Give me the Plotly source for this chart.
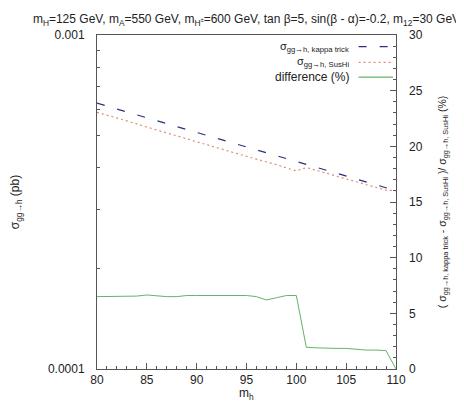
import plotly.graph_objects as go

mh = list(range(80, 111))
sigma_kappa = [6.25e-4, 6.13e-4, 6.00e-4, 5.88e-4, 5.77e-4, 5.65e-4, 5.54e-4, 5.43e-4,
               5.32e-4, 5.21e-4, 5.11e-4, 5.01e-4, 4.91e-4, 4.81e-4, 4.71e-4, 4.62e-4,
               4.53e-4, 4.44e-4, 4.35e-4, 4.26e-4, 4.18e-4, 4.09e-4, 4.01e-4, 3.93e-4,
               3.85e-4, 3.78e-4, 3.70e-4, 3.63e-4, 3.56e-4, 3.49e-4, 3.42e-4]
sigma_sushi = [5.87e-4, 5.76e-4, 5.63e-4, 5.52e-4, 5.42e-4, 5.30e-4, 5.20e-4, 5.10e-4,
               5.00e-4, 4.89e-4, 4.79e-4, 4.70e-4, 4.61e-4, 4.51e-4, 4.42e-4, 4.33e-4,
               4.25e-4, 4.18e-4, 4.09e-4, 4.00e-4, 3.92e-4, 4.01e-4, 3.94e-4, 3.86e-4,
               3.78e-4, 3.71e-4, 3.64e-4, 3.57e-4, 3.50e-4, 3.43e-4, 3.42e-4]
difference = [6.5, 6.5, 6.5, 6.5, 6.55, 6.65, 6.55, 6.5, 6.5, 6.6, 6.6, 6.6, 6.6, 6.6,
              6.6, 6.6, 6.5, 6.2, 6.4, 6.6, 6.6, 1.95, 1.9, 1.85, 1.85, 1.85, 1.75, 1.7,
              1.7, 1.65, 0.0]

left_ticks = [1e-4, 1e-3]
left_ticktext = ["0.0001", "0.001"]
left_minor = [2e-4, 3e-4, 4e-4, 5e-4, 6e-4, 7e-4, 8e-4, 9e-4]

c_kappa = "#2e2e80"
c_sushi = "#e08a78"
c_diff = "#66b366"
frame = "#555555"
font = "Liberation Sans"

fig = go.Figure()
fig.add_trace(go.Scatter(x=mh, y=sigma_kappa, mode="lines", name="kappa",
                         line=dict(color=c_kappa, width=1.2, dash="8px,13px"),
                         showlegend=False))
fig.add_trace(go.Scatter(x=mh, y=sigma_sushi, mode="lines", name="sushi",
                         line=dict(color=c_sushi, width=1.2, dash="2px,3px"),
                         showlegend=False))
fig.add_trace(go.Scatter(x=mh, y=difference, mode="lines", name="diff", yaxis="y2",
                         line=dict(color=c_diff, width=1),
                         showlegend=False))

# legend imitation (gnuplot style: text left, sample right)
leg = [("σ<sub>gg→h, kappa trick</sub>", c_kappa, "8px,13px", 0.965, 11),
       ("σ<sub>gg→h, SusHi</sub>", c_sushi, "2px,3px", 0.918, 11),
       ("difference (%)", c_diff, "solid", 0.874, 12)]
for txt, col, dsh, yy, fs in leg:
    fig.add_annotation(x=0.85, y=yy, xref="paper", yref="paper", text=txt,
                       showarrow=False, xanchor="right", yanchor="middle",
                       font=dict(family=font, size=fs, color="#222222"))
    fig.add_shape(type="line", xref="paper", yref="paper", x0=0.875, x1=0.99,
                  y0=yy, y1=yy, line=dict(color=col, width=1.2, dash=dsh))

# x-axis title placed as text just under the tick labels
fig.add_annotation(x=0.5, y=-0.074, xref="paper", yref="paper", text="m<sub>h</sub>",
                   showarrow=False, xanchor="center", yanchor="middle",
                   font=dict(family=font, size=12, color="#222222"))

fig.update_layout(
    width=464, height=401,
    margin=dict(l=89, r=76, t=27, b=40),
    paper_bgcolor="white", plot_bgcolor="white",
    font=dict(family=font, size=12, color="#222222"),
    title=dict(text="m<sub>H</sub>=125 GeV, m<sub>A</sub>=550 GeV, m<sub>H<sup>±</sup></sub>=600 GeV, tan β=5, sin(β - α)=-0.2, m<sub>12</sub>=30 GeV",
               x=0.5, xref="paper", xanchor="center", y=0.972, yanchor="middle",
               font=dict(family=font, size=12, color="#222222")),
    xaxis=dict(range=[80, 110], tickvals=[80, 85, 90, 95, 100, 105, 110],
               ticks="inside", ticklen=6, tickcolor=frame, showgrid=False, automargin=False,
               zeroline=False, showline=True, linecolor=frame, linewidth=1, mirror=True,
               minor=dict(dtick=1, ticks="inside", ticklen=3, tickcolor=frame, showgrid=False)),
    yaxis=dict(type="log", range=[-4, -3], tickvals=left_ticks, ticktext=left_ticktext,
               ticks="inside", ticklen=6, tickcolor=frame, showgrid=False, automargin=False,
               ticklabelstandoff=9,
               zeroline=False, showline=True, linecolor=frame, linewidth=1, mirror=True,
               minor=dict(tickvals=left_minor, ticks="inside", ticklen=3, tickcolor=frame, showgrid=False),
               title=dict(text="σ<sub>gg→h</sub> (pb)", standoff=25, font=dict(size=12))),
    yaxis2=dict(overlaying="y", side="right", range=[0, 30], dtick=5,
                ticks="inside", ticklen=6, tickcolor=frame, showgrid=False, automargin=False,
                ticklabelstandoff=12,
                zeroline=False, showline=False,
                minor=dict(dtick=1, ticks="inside", ticklen=3, tickcolor=frame, showgrid=False),
                title=dict(text="( σ<sub>gg→h, kappa trick</sub> - σ<sub>gg→h, SusHi</sub> )/ σ<sub>gg→h, SusHi</sub> (%)",
                           standoff=16, font=dict(size=10.5))),
)

fig.write_html("out.html")
